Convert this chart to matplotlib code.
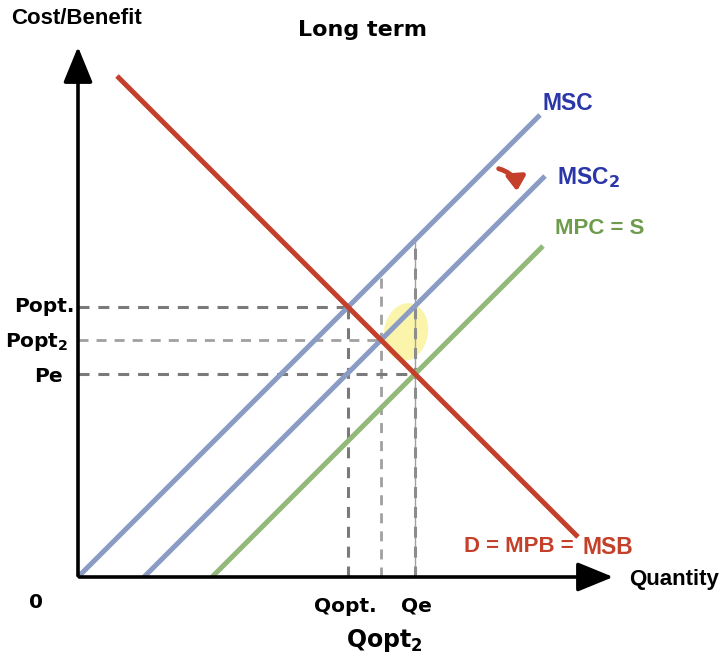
import matplotlib.pyplot as plt
from matplotlib.patches import Ellipse, FancyArrowPatch

plt.rcParams['font.family'] = ['Liberation Sans', 'DejaVu Sans']
plt.rcParams['mathtext.fontset'] = 'custom'
plt.rcParams['mathtext.bf'] = 'DejaVu Sans:bold'
plt.rcParams['mathtext.rm'] = 'DejaVu Sans:bold'

# curve end points (quantity, price)
msb_q = [3.9, 50.0]
msb_p = [50.1, 4.0]
msc_q = [0.0, 46.2]
msc_p = [0.0, 46.2]
msc2_q = [6.6, 46.7]
msc2_p = [0.0, 40.1]
mpc_q = [13.4, 46.5]
mpc_p = [0.0, 33.1]

# equilibrium points
q_opt, p_opt = 27.0, 27.0
q_opt2, p_opt2 = 30.3, 23.7
q_e, p_e = 33.7, 20.3

red = '#c4402b'
blue_line = '#8a9cc4'
green_line = '#93b97a'
dark_dash = '#7a7a7a'
light_dash = '#a0a0a0'

fig = plt.figure(figsize=(7.26, 6.58), dpi=100)
ax = fig.add_axes([0, 0, 1, 1])
ax.set_xlim(-7.8, 64.8)
ax.set_ylim(-8.1, 57.7)
ax.axis('off')

# dashed guide lines
ax.plot([0, q_opt], [p_opt, p_opt], color=dark_dash, lw=2.2, dashes=(3.6, 2.9))
ax.plot([q_opt, q_opt], [0, p_opt], color=dark_dash, lw=2.2, dashes=(3.6, 2.9))
ax.plot([0, q_opt2], [p_opt2, p_opt2], color=light_dash, lw=2.0, dashes=(3.6, 2.9))
ax.plot([q_opt2, q_opt2], [0, q_opt2], color=light_dash, lw=2.0, dashes=(3.6, 2.9))
ax.plot([0, q_e], [p_e, p_e], color=dark_dash, lw=2.2, dashes=(3.6, 2.9))
ax.plot([q_e, q_e], [0, q_e], color=light_dash, lw=1.0)
ax.plot([q_e, q_e], [0, q_e], color='#8c8c8c', lw=2.2, dashes=(3.6, 2.9))

# curves
ax.plot(mpc_q, mpc_p, color=green_line, lw=3.6, solid_capstyle='butt')
ax.plot(msc_q, msc_p, color=blue_line, lw=3.6, solid_capstyle='butt')
ax.plot(msc2_q, msc2_p, color=blue_line, lw=3.6, solid_capstyle='butt')
ax.plot(msb_q, msb_p, color=red, lw=3.6, solid_capstyle='butt')

# highlight
ax.add_patch(Ellipse((32.8, 24.5), 4.4, 5.8, angle=-10,
                     facecolor='#f9ef7e', alpha=0.65, edgecolor='none'))

# shift arrow
ax.add_patch(FancyArrowPatch((41.8, 40.9), (43.9, 38.3),
                             connectionstyle='arc3,rad=-0.4',
                             arrowstyle='-|>,head_width=2.8,head_length=4.2',
                             color=red, lw=3.5, mutation_scale=2))

# axes with arrows
ax.annotate('', xy=(0, 53.3), xytext=(0, -0.15),
            arrowprops=dict(arrowstyle='-|>,head_width=0.45,head_length=1.1',
                            color='black', lw=2.6, mutation_scale=20))
ax.annotate('', xy=(53.8, 0), xytext=(-0.15, 0),
            arrowprops=dict(arrowstyle='-|>,head_width=0.45,head_length=1.1',
                            color='black', lw=2.6, mutation_scale=20))

# text
bold = dict(fontweight='bold', color='black')
dv = ['DejaVu Sans']
ax.text(-6.7, 55.9, 'Cost/Benefit', fontsize=16, ha='left', va='center', **bold)
ax.text(28.4, 54.7, 'Long term', fontsize=16, ha='center', va='center',
        fontfamily=dv, **bold)
ax.text(-0.3, 27.0, 'Popt.', fontsize=14.5, ha='right', va='center', fontfamily=dv, **bold)
ax.text(-1.0, 23.5, r'Popt$_{2}$', fontsize=14.5, ha='right', va='center', fontfamily=dv, **bold)
ax.text(-1.5, 20.1, 'Pe', fontsize=14.5, ha='right', va='center', fontfamily=dv, **bold)
ax.text(-4.2, -2.6, '0', fontsize=14.5, ha='center', va='center', fontfamily=dv, **bold)
ax.text(q_opt - 0.3, -2.9, 'Qopt.', fontsize=14.5, ha='center', va='center', fontfamily=dv, **bold)
ax.text(q_e + 0.1, -2.9, 'Qe', fontsize=14.5, ha='center', va='center', fontfamily=dv, **bold)
ax.text(q_opt2 + 0.3, -6.3, r'Qopt$_{2}$', fontsize=17, ha='center', va='center', fontfamily=dv, **bold)
ax.text(55.1, -0.2, 'Quantity', fontsize=16, ha='left', va='center', **bold)

ax.text(46.5, 47.4, 'MSC', fontsize=16.5, ha='left', va='center',
        fontweight='bold', color='#2b36a8')
ax.text(47.9, 39.9, r'MSC$_{2}$', fontsize=16.5, ha='left', va='center',
        fontweight='bold', color='#2b36a8')
ax.text(47.7, 34.8, 'MPC = S', fontsize=16, ha='left', va='center',
        fontweight='bold', color='#6f9c4c')
ax.text(49.6, 3.1, 'D = MPB =', fontsize=16, ha='right', va='center',
        fontweight='bold', color=red)
ax.text(50.4, 2.9, 'MSB', fontsize=16.5, ha='left', va='center',
        fontweight='bold', color=red)

fig.savefig('out.png', dpi=100)
